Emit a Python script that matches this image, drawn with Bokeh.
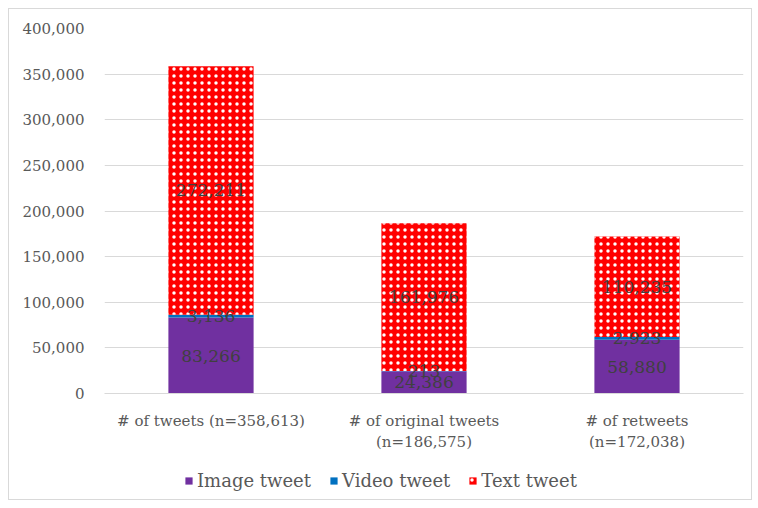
from bokeh.plotting import figure
from bokeh.layouts import column
from bokeh.models import ColumnDataSource, FactorRange, NumeralTickFormatter, Legend, LegendItem, Range1d
from bokeh.core.properties import value
from bokeh.embed import file_html
from bokeh.resources import INLINE

categories = ["# of tweets (n=358,613)", "# of original tweets\n(n=186,575)", "# of retweets\n(n=172,038)"]
series = ["Image tweet", "Video tweet", "Text tweet"]
image_tweet = [83266, 24386, 58880]
video_tweet = [3136, 213, 2923]
text_tweet = [272211, 161976, 110235]

FONT = "DejaVu Serif"
COLORS = ["#7030A0", "#0070C0", "#FF0000"]
HATCH = dict(hatch_pattern="dot", hatch_color="white", hatch_scale=7, hatch_weight=1.3)

img_top = image_tweet
vid_top = [a + b for a, b in zip(image_tweet, video_tweet)]
txt_top = [a + b for a, b in zip(vid_top, text_tweet)]

src = ColumnDataSource(dict(
    cat=categories,
    img_bottom=[0] * 3, img_top=img_top,
    vid_bottom=img_top, vid_top=vid_top,
    txt_bottom=vid_top, txt_top=txt_top,
    img_mid=[t / 2 for t in img_top],
    vid_mid=[(a + b) / 2 for a, b in zip(img_top, vid_top)],
    txt_mid=[(a + b) / 2 for a, b in zip(vid_top, txt_top)],
    img_lbl=[f"{v:,}" for v in image_tweet],
    vid_lbl=[f"{v:,}" for v in video_tweet],
    txt_lbl=[f"{v:,}" for v in text_tweet],
))

stacks = [("img_bottom", "img_top", {}),
          ("vid_bottom", "vid_top", {}),
          ("txt_bottom", "txt_top", HATCH)]

p = figure(width=742, height=453, x_range=FactorRange(*categories),
           y_range=Range1d(0, 400000), output_backend="svg", toolbar_location=None,
           min_border_left=95, min_border_right=8, min_border_top=19, min_border_bottom=69)
p.outline_line_color = None
p.x_range.factor_padding = 0
p.x_range.range_padding = 0

for (bottom, top, extra), color in zip(stacks, COLORS):
    p.vbar(x="cat", bottom=bottom, top=top, width=0.4, source=src,
           fill_color=color, line_color=None, **extra)

for mid, lbl in [("img_mid", "img_lbl"), ("vid_mid", "vid_lbl"), ("txt_mid", "txt_lbl")]:
    p.text(x="cat", y=mid, text=lbl, source=src, text_align="center", text_baseline="middle",
           text_font=value(FONT), text_font_size="17px", text_color="#404040")

p.yaxis.formatter = NumeralTickFormatter(format="0,0")
p.yaxis.ticker.desired_num_ticks = 9
p.yaxis.axis_line_color = None
p.yaxis.major_tick_line_color = None
p.yaxis.minor_tick_line_color = None
p.yaxis.major_label_text_font = FONT
p.yaxis.major_label_text_font_size = "15px"
p.yaxis.major_label_text_color = "#595959"
p.yaxis.major_label_standoff = 14

p.xaxis.axis_line_color = "#d9d9d9"
p.xaxis.axis_line_width = 1
p.xaxis.major_tick_line_color = None
p.xaxis.minor_tick_line_color = None
p.xaxis.major_label_text_font = FONT
p.xaxis.major_label_text_font_size = "15px"
p.xaxis.major_label_text_color = "#595959"
p.xaxis.major_label_standoff = 12

p.xgrid.grid_line_color = None
p.ygrid.grid_line_color = "#d9d9d9"

# Legend strip below the chart: hidden copies of the series supply the swatches
lg = figure(width=742, height=37, x_range=FactorRange(*categories), y_range=Range1d(0, 1),
            output_backend="svg", toolbar_location=None, min_border=0)
lg.axis.visible = False
lg.grid.visible = False
lg.outline_line_color = None
items = []
for (bottom, top, extra), color, name in zip(stacks, COLORS, series):
    r = lg.vbar(x="cat", bottom=bottom, top=top, width=0.4, source=src,
                fill_color=color, line_color=None, visible=False, **extra)
    items.append(LegendItem(label=name, renderers=[r]))

legend = Legend(items=items, orientation="horizontal", location=(80, 8), border_line_color=None,
                background_fill_alpha=0, click_policy="none",
                label_text_font=FONT, label_text_font_size="18px", label_text_color="#595959",
                glyph_width=9, glyph_height=9, spacing=18, label_standoff=4, margin=0, padding=4)
lg.add_layout(legend, "center")

page = column(p, lg, spacing=0,
              styles={"border": "1px solid #d9d9d9", "margin-left": "8px", "margin-top": "8px"})
open("out.html", "w").write(file_html(page, INLINE))
